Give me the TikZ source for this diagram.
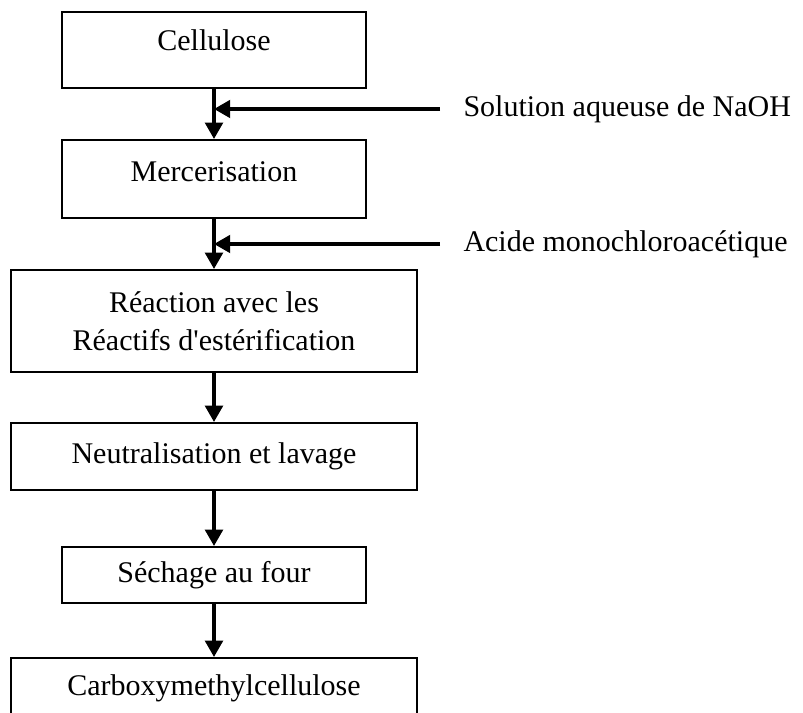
\documentclass[tikz,border=0pt]{standalone}
\usepackage{fontspec}
\setmainfont{Liberation Serif}
\usepackage{tikz}
\usetikzlibrary{arrows.meta,positioning,calc}

\begin{document}
\begin{tikzpicture}[node distance=20pt,
    font=\fontsize{12}{15}\selectfont,
    box/.style={draw, line width=0.8pt, align=center, inner sep=0pt},
    narrowbox/.style={box, minimum width=121.6pt},
    widebox/.style={box, minimum width=162pt},
    flow/.style={-{Triangle[width=7pt,length=6.5pt]}, line width=1.4pt},
    feed/.style={anchor=west, inner xsep=9.2pt}]
    \useasboundingbox (-85.6pt,20pt) rectangle (235.6pt,-265.2pt);
    \node[narrowbox, minimum height=30.4pt, text depth=8pt] (cell) {Cellulose};
    \node[below=of cell, narrowbox, minimum height=31.2pt, text depth=5.6pt] (merc) {Mercerisation};
    \node[below=of merc, widebox, minimum height=40.8pt] (react) {Réaction avec les\\Réactifs d\textquotesingle estérification};
    \node[below=19.6pt of react, widebox, minimum height=26.8pt] (neut) {Neutralisation et lavage};
    \node[below=22pt of neut, narrowbox, minimum height=22.4pt] (sech) {Séchage au four};
    \node[below=21.2pt of sech, widebox, minimum height=32pt, text depth=10pt] (cmc) {Carboxymethylcellulose};
    \coordinate (j1) at ($(cell.south)!0.4!(merc.north)$);
    \coordinate (j2) at ($(merc.south)!0.5!(react.north)$);
    \node[right=90.4pt of j1, feed] (naoh) {Solution aqueuse de NaOH};
    \node[right=90.4pt of j2, feed] (acid) {Acide monochloroacétique};
    \draw[flow] (cell.south) -- (merc.north);
    \draw[flow] (merc.south) -- (react.north);
    \draw[flow] (react.south) -- (neut.north);
    \draw[flow] (neut.south) -- (sech.north);
    \draw[flow] (sech.south) -- (cmc.north);
    \draw[flow] (naoh.west) -- (j1);
    \draw[flow] (acid.west) -- (j2);
\end{tikzpicture}
\end{document}
